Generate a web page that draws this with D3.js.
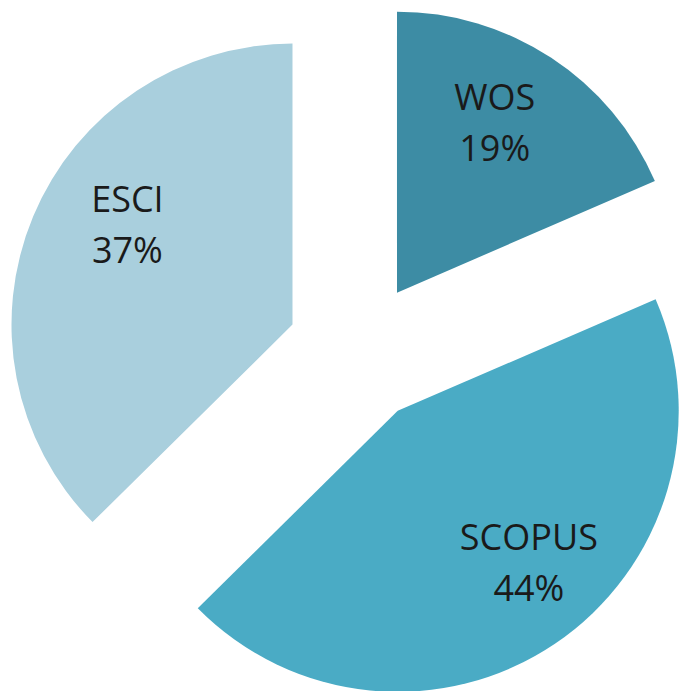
<!DOCTYPE html>
<html>
<head>
<meta charset="utf-8">
<script src="https://cdn.jsdelivr.net/npm/d3@7"></script>
<style>
  body { margin: 0; background: #fff; }
</style>
</head>
<body>
<div id="chart"></div>
<script>
// data (shares, labels show them rounded)
var categories = ["WOS", "SCOPUS", "ESCI"];
var shares = [18.5, 44.1, 37.4];
var colors = ["#3d8ca4", "#4aabc5", "#a9cfdd"];

var svgWidth = 679;
var svgHeight = 691;

var cx = 358, cy = 352;
var radius = 281;
var explode = 71;

// label placement relative to each slice tip: angle shift (deg) from the bisector, distance
var labelPlace = {
  WOS: { shift: -3.4, dist: 196 },
  SCOPUS: { shift: -6.7, dist: 201 },
  ESCI: { shift: 8.5, dist: 193 }
};
var lineGap = 51;

var svg = d3.select("#chart")
  .append("svg")
  .attr("width", svgWidth)
  .attr("height", svgHeight);

var g = svg.append("g")
  .attr("transform", `translate(${cx}, ${cy})`);

var pie = d3.pie().sort(null).value(d => d.value);
var arcs = pie(categories.map((c, i) => ({ name: c, value: shares[i], color: colors[i] })));

var arc = d3.arc().innerRadius(0).outerRadius(radius);

function polar(a, r) {
  return [Math.sin(a) * r, -Math.cos(a) * r];
}
function mid(d) { return (d.startAngle + d.endAngle) / 2; }

var slices = g.selectAll("g.slice")
  .data(arcs)
  .enter()
  .append("g")
  .attr("class", "slice")
  .attr("transform", d => {
    var o = polar(mid(d), explode);
    return `translate(${o[0]}, ${o[1]})`;
  });

slices.append("path")
  .attr("d", arc)
  .attr("fill", d => d.data.color);

var labels = slices.append("text")
  .attr("text-anchor", "middle")
  .attr("font-family", "'Open Sans', sans-serif")
  .attr("font-size", 36)
  .attr("fill", "#1a1a1a")
  .attr("transform", d => {
    var p = labelPlace[d.data.name];
    var o = polar(mid(d) + p.shift * Math.PI / 180, p.dist);
    return `translate(${o[0]}, ${o[1]})`;
  });

labels.append("tspan")
  .attr("x", 0)
  .attr("y", -13)
  .text(d => d.data.name);

labels.append("tspan")
  .attr("x", 0)
  .attr("y", -13 + lineGap)
  .text(d => Math.round(d.data.value) + "%");
</script>
</body>
</html>
